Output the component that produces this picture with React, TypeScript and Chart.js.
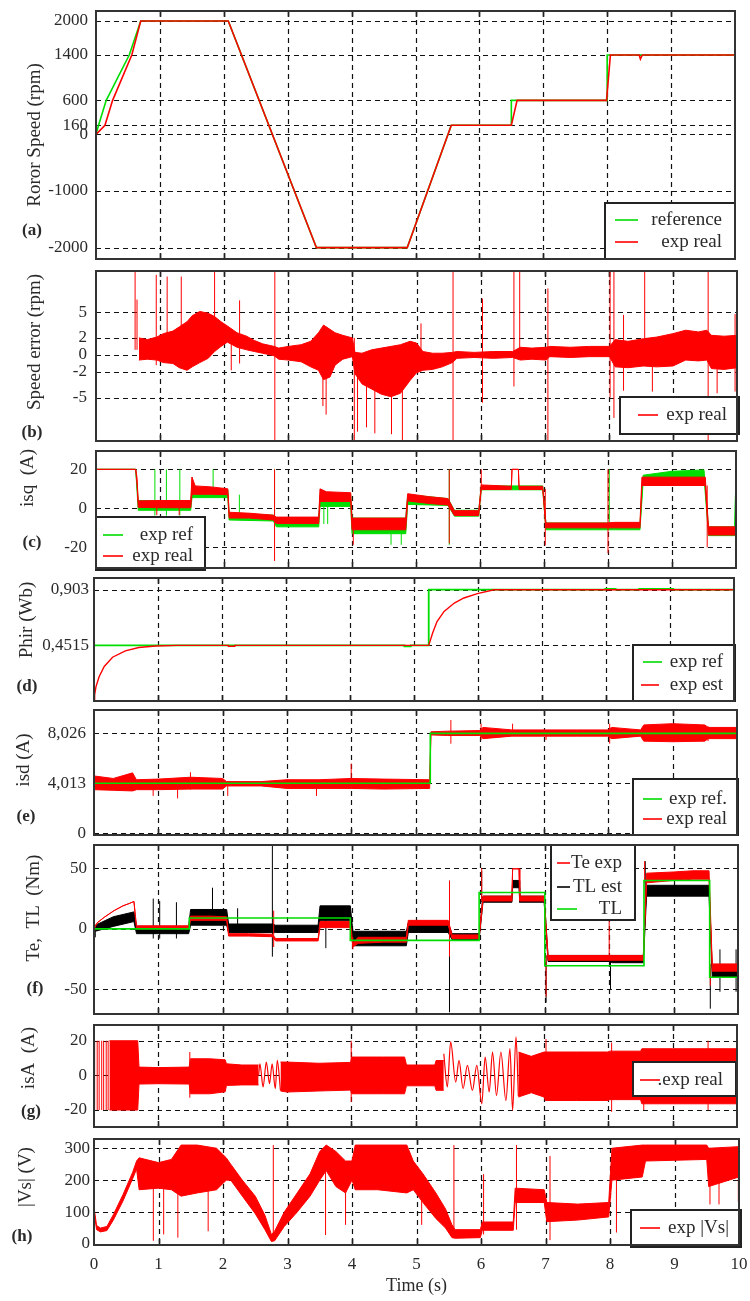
import React, { useEffect, useRef } from "react";
import { Chart, registerables } from "chart.js";

Chart.register(...registerables);

const RED = "#ff0000";
const GREEN = "#00dd00";
const BLACK = "#000000";
const INK = "#2a2a2a";
const SERIF = "'Liberation Serif', 'Times New Roman', Times, serif";
const PAD = 14;
const PAGE_W = 750;
const PAGE_H = 1301;

// ---------- shared time axis ----------
const timeTicks = [0, 1, 2, 3, 4, 5, 6, 7, 8, 9, 10];
const timeTickLabels = ["0", "1", "2", "3", "4", "5", "6", "7", "8", "9", "10"];

// ---------- (a) rotor speed ----------
const speedTicks = [2000, 1400, 600, 160, 0, -1000, -2000];
const speedTickLabels = ["2000", "1400", "600", "160", "0", "-1000", "-2000"];
const speedRefT = [0, 0.04, 0.16, 0.52, 0.7, 2.07, 3.45, 4.87, 5.56, 6.5, 6.5, 8.0, 8.0, 10];
const speedRefV = [0, 160, 600, 1400, 2000, 2000, -2000, -2000, 160, 160, 600, 600, 1400, 1400];
const speedRealT = [0, 0.14, 0.26, 0.56, 0.7, 2.07, 3.45, 4.87, 5.56, 6.5, 6.59, 7.99, 8.05, 8.5, 8.52, 8.55, 10];
const speedRealV = [0, 160, 600, 1400, 2000, 2000, -2000, -2000, 160, 160, 600, 600, 1400, 1400, 1330, 1400, 1400];

// ---------- (b) speed error ----------
const errTicks = [5, 2, 0, -2, -5];
const errTickLabels = ["5", "2", "0", "-2", "-5"];
const errBandT = [0.67, 0.8, 0.95, 1.05, 1.2, 1.3, 1.42, 1.5, 1.62, 1.75, 1.85, 1.95, 2.05, 2.2, 2.35, 2.47, 2.6, 2.78, 2.85, 3.0, 3.2, 3.35, 3.47, 3.55, 3.65, 3.73, 3.85, 4.0, 4.04, 4.15, 4.3, 4.45, 4.6, 4.75, 4.9, 5.0, 5.1, 5.25, 5.4, 5.56, 5.63, 5.9, 6.2, 6.5, 6.62, 6.8, 7.02, 7.08, 7.4, 7.7, 8.01, 8.1, 8.3, 8.54, 8.75, 9.0, 9.2, 9.4, 9.53, 9.6, 9.8, 10];
const errBandHi = [2.0, 1.8, 2.1, 2.5, 2.8, 3.3, 3.9, 4.6, 5.1, 4.9, 4.5, 3.9, 3.4, 2.6, 2.2, 1.7, 1.3, 1.0, 0.8, 1.0, 1.2, 1.6, 2.6, 3.5, 3.0, 2.6, 2.3, 2.0, 0.3, 0.2, 0.6, 0.8, 1.0, 1.2, 1.6, 1.4, 0.4, 0.2, 0.2, 0.3, 0.4, 0.3, 0.4, 0.4, 0.9, 0.8, 0.9, 1.0, 0.9, 1.0, 1.0, 1.8, 1.6, 1.9, 2.1, 2.5, 2.9, 2.7, 2.9, 2.3, 2.2, 2.3];
const errBandLo = [-0.6, -0.5, -0.6, -0.9, -1.0, -1.5, -1.8, -1.4, -0.9, -0.4, 0.4, 1.0, 1.5, 0.9, 0.6, 0.4, 0.2, -0.1, -0.5, -0.6, -0.8, -1.4, -1.8, -2.9, -2.6, -1.2, -0.5, -0.2, -2.2, -3.4, -4.0, -4.6, -4.9, -4.5, -3.0, -2.1, -1.8, -1.7, -1.4, -0.9, -0.4, -0.3, -0.4, -0.3, -0.6, -0.5, -0.6, -0.2, -0.3, -0.2, -0.2, -1.4, -1.5, -1.3, -1.4, -1.3, -0.6, -0.7, -0.6, -1.6, -1.7, -1.5];
const errSpikeT = [0.0, 0.61, 0.64, 0.94, 1.11, 1.33, 1.85, 2.11, 2.24, 2.79, 3.54, 3.59, 4.03, 4.08, 4.22, 4.35, 4.61, 4.78, 5.07, 5.57, 6.03, 6.52, 6.61, 7.05, 8.02, 8.08, 8.23, 8.56, 8.68, 9.55, 9.69, 9.97];
const errSpikeLo = [0, 0.6, 0.6, -1.2, 0, -1.0, 1.0, -1.8, -1.0, -10.1, -6.0, -7.0, -10.1, -9.0, -8.5, -9.2, -9.3, -10.1, -1.0, -10.1, -5.6, -3.7, 0, -10.1, -5.0, -7.4, -4.2, -1.0, -4.3, -10.1, -4.5, -4.3];
const errSpikeHi = [9.9, 9.9, 6.5, 9.4, 9.2, 9.2, 9.9, 2.0, 6.4, 9.9, 1.0, 1.0, 2.0, 0, 0, 0, 0, 0, 3.7, 9.9, 6.6, 9.9, 9.9, 7.8, 9.9, 9.9, 4.7, 9.9, 1.0, 9.9, 1.0, 4.8];

// ---------- (c) isq ----------
const isqTicks = [20, 0, -20];
const isqTickLabels = ["20", "0", "-20"];
const isqRealT = [0, 0.62, 0.64, 0.66, 1.0, 1.48, 1.5, 1.55, 1.8, 2.06, 2.08, 2.4, 2.77, 2.82, 3.2, 3.48, 3.5, 3.6, 3.98, 4.0, 4.4, 4.84, 4.87, 5.2, 5.5, 5.6, 5.98, 6.02, 6.49, 6.5, 6.6, 6.61, 6.98, 7.03, 7.5, 7.98, 8.1, 8.5, 8.53, 9.0, 9.52, 9.57, 10];
const isqRealHi = [20, 20, 16, 3.8, 4.0, 4.0, 16, 11.5, 11, 10, -2, -2.5, -3.5, -4.5, -4.5, -4.5, 10, 8.5, 8, -5, -5, -5, 7.5, 6, 5, -1.2, -1.2, 12, 11.3, 20, 20, 11.3, 11.3, -7.5, -7.5, -7.5, -7.2, -7.2, 16, 16, 16, -9.5, -9.5];
const isqRealLo = [20, 20, 13, 0.5, 0.3, 0.3, 7.2, 7.2, 7.2, 7, -5, -5, -6, -7.8, -7.8, -7.8, 3.5, 3.5, 3.5, -11, -11, -11, 3.8, 2.5, 1.7, -3.7, -3.7, 9.7, 9.7, 20, 20, 9.7, 9.7, -10, -10, -10, -10, -10, 11.7, 11.7, 11.7, -13.7, -13.7];
const isqRealSpikeT = [0.95, 1.3, 1.5, 2.79, 4.02, 5.52, 6.02, 7.02, 8.0, 8.03, 9.55];
const isqRealSpikeLo = [-3.5, -3.5, 7, -27, -18.7, -18, 9.7, -19, -23, -10, -20];
const isqRealSpikeHi = [2, 2, 16, 20, -5, 20, 20, 10, 20, -7.5, 11.7];
const isqRefT = [0, 0.62, 0.66, 1.48, 1.5, 2.06, 2.08, 2.77, 2.82, 3.48, 3.5, 3.98, 4.0, 4.84, 4.87, 5.5, 5.6, 5.98, 6.02, 6.98, 7.03, 8.0, 8.1, 8.5, 8.55, 9.0, 9.5, 9.57, 9.98, 10];
const isqRefHi = [20, 20, 4, 4, 10.5, 9.5, -2.5, -3.5, -5, -5, 7, 7, -5, -5, 7, 5, -1, -1, 11.5, 11.5, -7.5, -7.5, -7.5, -7.5, 17, 19, 19.7, -9.5, -9.5, 20];
const isqRefLo = [20, 20, -1, -1, 5.5, 5.5, -6, -6.5, -9.5, -9.5, 1, 1, -13, -13, 2, 1.5, -4, -4, 9.5, 9.5, -11, -11, -11, -11, 14, 15, 16, -14, -14, 20];
const isqRefSpikeT = [0.92, 1.1, 1.31, 1.83, 2.24, 2.79, 3.56, 3.62, 4.61, 4.77, 5.52, 8.02];
const isqRefSpikeLo = [-3.7, -3.7, -3.7, 5.5, -3, -10, -8, -8, -18.7, -18.7, -18.7, -10];
const isqRefSpikeHi = [20, 20, 20, 20, 7, 20, 6, 6, -5, -5, 20, 20];

// ---------- (d) rotor flux ----------
const phiTicks = [0.903, 0.4515];
const phiTickLabels = ["0,903", "0,4515"];
const phiRefT = [0, 4.85, 4.85, 4.95, 4.95, 5.23, 5.23, 7.99, 7.99, 8.15, 8.15, 8.52, 8.52, 9.05, 9.05, 10];
const phiRefV = [0.4515, 0.4515, 0.443, 0.443, 0.4515, 0.4515, 0.903, 0.903, 0.91, 0.91, 0.903, 0.903, 0.91, 0.91, 0.903, 0.903];
const phiEstT = [0, 0.01, 0.03, 0.08, 0.16, 0.29, 0.49, 0.7, 0.96, 1.3, 2.1, 2.1, 2.2, 2.2, 5.23, 5.26, 5.29, 5.36, 5.47, 5.63, 5.78, 5.99, 6.25, 10];
const phiEstV = [0, 0.05, 0.115, 0.197, 0.28, 0.355, 0.407, 0.434, 0.446, 0.4515, 0.4515, 0.444, 0.444, 0.4515, 0.4515, 0.5, 0.55, 0.645, 0.727, 0.795, 0.836, 0.871, 0.903, 0.903];

// ---------- (e) isd ----------
const isdTicks = [8.026, 4.013, 0];
const isdTickLabels = ["8,026", "4,013", "0"];
const isdRefT = [0, 5.23, 5.23, 10];
const isdRefV = [4.013, 4.013, 8.026, 8.026];
const isdBandT = [0.005, 0.3, 0.6, 0.66, 1.0, 1.5, 2.0, 2.06, 2.6, 3.0, 3.5, 4.0, 4.5, 5.22, 5.24, 5.5, 6.0, 6.05, 6.5, 7.0, 7.5, 7.99, 8.05, 8.5, 8.55, 9.0, 9.5, 9.55, 10];
const isdBandHi = [4.6, 4.4, 4.85, 4.3, 4.35, 4.5, 4.4, 4.15, 4.15, 4.3, 4.3, 4.4, 4.35, 4.3, 8.15, 8.2, 8.25, 8.5, 8.3, 8.3, 8.3, 8.3, 8.5, 8.3, 8.7, 8.8, 8.7, 8.5, 8.5];
const isdBandLo = [3.5, 3.45, 3.4, 3.5, 3.5, 3.55, 3.55, 3.8, 3.8, 3.6, 3.6, 3.6, 3.55, 3.6, 7.9, 7.85, 7.85, 7.6, 7.8, 7.8, 7.8, 7.8, 7.6, 7.8, 7.4, 7.35, 7.4, 7.6, 7.6];
const isdSpikeT = [0, 0.92, 1.3, 1.5, 2.08, 3.46, 4.0, 5.55, 6.02, 6.51, 7.03, 8.02, 9.55];
const isdSpikeLo = [0, 3.0, 2.8, 3.5, 3.0, 3.0, 3.6, 7.2, 7.5, 7.9, 7.5, 7.2, 7.4];
const isdSpikeHi = [4.6, 4.3, 4.3, 4.9, 4.2, 4.2, 5.6, 9.1, 8.8, 8.8, 8.2, 8.8, 8.6];

// ---------- (f) torques ----------
const torqueTicks = [50, 0, -50];
const torqueTickLabels = ["50", "0", "-50"];
const tlT = [0, 1.48, 1.48, 3.98, 3.98, 5.98, 5.98, 7.0, 7.0, 8.54, 8.54, 9.56, 9.56, 10];
const tlV = [0, 0, 9, 9, -9.5, -9.5, 30, 30, -30.5, -30.5, 40, 40, -40, -40];
const teT = [0, 0.05, 0.16, 0.31, 0.45, 0.55, 0.62, 0.66, 1.0, 1.47, 1.5, 1.8, 2.06, 2.09, 2.4, 2.77, 2.82, 3.2, 3.48, 3.51, 3.98, 4.02, 4.1, 4.5, 4.85, 4.88, 5.2, 5.5, 5.56, 5.98, 6.04, 6.49, 6.5, 6.6, 6.61, 6.99, 7.05, 7.5, 8.0, 8.05, 8.53, 8.58, 9.0, 9.3, 9.55, 9.6, 10];
const teHi = [0, 5, 9.6, 15, 19, 21, 22.6, 2.5, 2.5, 2.5, 10.5, 10.5, 10, -4, -4, -4.5, -8, -8, -8, 6, 6, -12, -7, -7, -7, 7, 7, 7, -5, -5, 27, 27, 49.6, 49.6, 27, 27, -22, -22, -22, -22, -22, 46, 47, 48, 48, -29, -29];
const teLo = [0, 5, 9.6, 15, 19, 21, 22.6, 0, 0, 0, 7, 7, 7, -6, -6, -6.5, -10, -10, -10, 1, 1, -15, -12, -11, -11, 3, 3, 3, -8, -8, 23, 23, 49.6, 49.6, 23, 23, -26, -26, -26, -26, -26, 38, 40, 41, 41, -35, -35];
const teSpikeT = [2.79, 4.02, 5.52, 6.02, 7.02, 8.0, 8.55, 9.57];
const teSpikeLo = [-15, -17, -23, 23, -56, -26, 38, -47];
const teSpikeHi = [15, -7, 40, 50, -22, 10, 56, -29];
const tleT = [0.02, 0.3, 0.62, 0.66, 1.47, 1.5, 2.06, 2.09, 2.77, 2.82, 3.48, 3.51, 3.98, 4.02, 4.85, 4.88, 5.5, 5.56, 5.98, 6.04, 6.49, 6.5, 6.6, 6.61, 6.99, 7.05, 8.0, 8.05, 8.53, 8.58, 9.55, 9.6, 10];
const tleHi = [3, 10, 14, 2, 2, 16, 16, 4, 4, 3, 3, 19, 19, -2, -2, 5, 5, -4, -4, 27, 27, 40, 40, 27, 27, -22, -22, -22, -22, 36, 36, -32, -32];
const tleLo = [-2, 2, 6, -4, -4, 3, 3, -3, -3, -3, -3, 7, 7, -14, -14, -3, -3, -9, -9, 22, 22, 34, 34, 22, 22, -27, -27, -28, -28, 27, 27, -40, -40];
const tleSpikeT = [0.02, 0.92, 1.02, 1.28, 1.84, 2.23, 2.77, 3.6, 5.52, 6.02, 7.02, 8.02, 8.56, 9.57, 9.72, 9.97];
const tleSpikeLo = [-7, -8, -8, -8, 3, -3, -23, -16, -69, 22, -61, -50, 15, -66, -52, -52];
const tleSpikeHi = [3, 25, 23, 22, 34, 17, 69, 7, 10, 48, -22, -22, 56, -32, -17, -17];

// ---------- (g) isA ----------
const isaTicks = [20, 0, -20];
const isaTickLabels = ["20", "0", "-20"];
const isaBand1T = [0.24, 0.68, 0.7, 1.0, 1.48, 1.5, 1.8, 2.04, 2.06, 2.3, 2.56];
const isaBand1Hi = [20, 20, 4.8, 4.5, 4.8, 9.6, 9.6, 9.0, 6.7, 6.0, 6.0];
const isaBand1Lo = [-20, -20, -5, -4.8, -5, -10.6, -10.6, -9.5, -5.8, -5.5, -5.5];
const isaBand2T = [2.9, 3.0, 3.5, 3.99, 4.01, 4.5, 4.83, 4.86, 5.3, 5.32, 5.44];
const isaBand2Hi = [7.7, 7.7, 7.0, 7.5, 10.6, 10.6, 10.6, 6, 6, 8.6, 8.6];
const isaBand2Lo = [-9, -9.6, -9.0, -8.5, -10.6, -10.6, -10.6, -6, -6, -8.6, -8.6];
const isaBand3T = [6.6, 6.8, 7.0, 7.02, 7.5, 7.99, 8.02, 8.5, 8.52, 9.0, 9.5, 10];
const isaBand3Hi = [13.5, 11, 13.5, 13.5, 13.5, 13.5, 14, 14, 15.4, 15.4, 15.4, 15.4];
const isaBand3Lo = [-12.5, -10, -12.5, -14.5, -14.5, -14.5, -14, -14, -16.4, -16.4, -16.4, -16.4];
const isaWave1T = [2.56, 2.58, 2.63, 2.68, 2.73, 2.77, 2.82, 2.85, 2.9];
const isaWave1V = [0, 6.7, -6.7, 7.7, -4.8, 6.7, -7.7, 8.7, -8.7];
const isaWave2T = [5.44, 5.495, 5.547, 5.625, 5.677, 5.74, 5.807, 5.885, 5.953, 6.031, 6.083, 6.146, 6.198, 6.26, 6.328, 6.406, 6.469, 6.51, 6.563, 6.6];
const isaWave2V = [12.5, -6.7, 19.3, -3.9, 8.7, -7.7, 5.8, -8.7, 5.8, -16.4, 10.6, -9.6, 13.5, -11.6, 13.5, -14.5, 15.4, -20.2, 22.2, -12];
const isaSpikeT = [0.01, 0.05, 0.08, 0.12, 0.15, 0.19, 0.22, 1.49, 4.0, 7.03, 8.05, 8.55, 9.55];
const isaSpikeLo = [-20, -20, -20, -20, -20, -20, -20, -12.9, -15.4, -14, -21, -20, -20];
const isaSpikeHi = [20, 20, 20, 20, 20, 20, 20, 13.5, 20, 21, 19, 15, 20];

// ---------- (h) |Vs| ----------
const vsTicks = [300, 200, 100, 0];
const vsTickLabels = ["300", "200", "100", "0"];
const vsBandT = [0, 0.04, 0.1, 0.2, 0.3, 0.45, 0.6, 0.66, 0.7, 1.0, 1.2, 1.35, 1.6, 1.9, 2.05, 2.12, 2.3, 2.5, 2.65, 2.75, 2.8, 2.95, 3.15, 3.35, 3.5, 3.6, 3.75, 3.9, 4.0, 4.05, 4.4, 4.85, 4.95, 5.1, 5.3, 5.45, 5.55, 5.6, 5.99, 6.02, 6.5, 6.53, 6.98, 7.02, 7.5, 7.98, 8.03, 8.5, 8.55, 9.5, 9.53, 10];
const vsBandHi = [115, 58, 50, 55, 92, 155, 225, 260, 270, 255, 265, 310, 310, 300, 270, 250, 200, 150, 90, 30, 40, 100, 160, 220, 290, 310, 290, 260, 260, 310, 310, 310, 260, 220, 160, 110, 60, 45, 45, 69, 69, 175, 170, 130, 125, 130, 300, 310, 310, 310, 300, 305];
const vsBandLo = [100, 45, 38, 42, 75, 135, 205, 235, 170, 175, 170, 150, 160, 170, 200, 200, 150, 95, 45, 8, 10, 55, 100, 150, 200, 230, 180, 160, 200, 170, 170, 160, 170, 130, 80, 50, 20, 18, 20, 43, 43, 130, 130, 70, 75, 85, 200, 210, 260, 265, 180, 210];
const vsSpikeT = [0.92, 1.08, 1.3, 1.77, 2.78, 3.59, 3.9, 5.08, 5.58, 6.04, 6.55, 7.07, 8.1, 9.55, 9.69, 9.99];
const vsSpikeLo = [10, 30, 20, 40, 10, 28, 60, 60, 20, 30, 45, 12, 36, 124, 124, 131];
const vsSpikeHi = [250, 250, 260, 260, 310, 230, 250, 220, 310, 219, 310, 276, 300, 280, 280, 300];

// ---------- dataset builders ----------
const pts = (T: number[], V: number[]) => T.map((t, i) => ({ x: t, y: V[i] }));
const spikePts = (T: number[], LO: number[], HI: number[]) =>
  T.flatMap((t, i) => [{ x: t, y: LO[i] }, { x: t, y: HI[i] }, { x: t, y: null }]);

function line(label: string, T: number[], V: number[], color: string, width: number, order: number, extra: any = {}) {
  return { label, data: pts(T, V), borderColor: color, backgroundColor: color, borderWidth: width, pointRadius: 0, tension: 0, fill: false, order, ...extra };
}
function band(label: string, T: number[], LO: number[], HI: number[], color: string, order: number) {
  return [
    { label: label + " max", data: pts(T, HI), borderColor: color, backgroundColor: color, borderWidth: 1, pointRadius: 0, tension: 0, fill: "+1", order },
    { label: label + " min", data: pts(T, LO), borderColor: color, backgroundColor: color, borderWidth: 1, pointRadius: 0, tension: 0, fill: false, order },
  ];
}
function spikes(label: string, T: number[], LO: number[], HI: number[], color: string, order: number) {
  return { label, data: spikePts(T, LO, HI), borderColor: color, backgroundColor: color, borderWidth: 1, pointRadius: 0, spanGaps: false, fill: false, order };
}

const panels: any[] = [
  {
    key: "a", top: 11, bottom: 259, left: 96, right: 735,
    yMin: -2200, yMax: 2177, yTicks: speedTicks, yTickLabels: speedTickLabels, yPad: 8,
    title: "Roror Speed (rpm)", titleX: 35, titleY: 135, letter: "(a)", letterX: 32, letterY: 231,
    legend: { x: 605, y: 203, w: 130, h: 56, textRight: 722, items: [
      { label: "reference", color: GREEN, y: 220, x1: 615, x2: 638 },
      { label: "exp real", color: RED, y: 242, x1: 615, x2: 638 },
    ] },
    datasets: () => [
      line("exp real", speedRealT, speedRealV, RED, 1.6, 0),
      line("reference", speedRefT, speedRefV, GREEN, 1.6, 1),
    ],
  },
  {
    key: "b", top: 271, bottom: 441, left: 96, right: 737,
    yMin: -10.1, yMax: 9.85, yTicks: errTicks, yTickLabels: errTickLabels, yPad: 9,
    title: "Speed error (rpm)", titleX: 35, titleY: 342, letter: "(b)", letterX: 32, letterY: 433,
    legend: { x: 620, y: 397, w: 119, h: 37, textRight: 727, items: [
      { label: "exp real", color: RED, y: 415, x1: 638, x2: 658 },
    ] },
    datasets: () => [
      ...band("exp real", errBandT, errBandLo, errBandHi, RED, 0),
      spikes("exp real spikes", errSpikeT, errSpikeLo, errSpikeHi, RED, 0),
    ],
  },
  {
    key: "c", top: 451, bottom: 568, left: 96, right: 736,
    yMin: -30.6, yMax: 29.4, yTicks: isqTicks, yTickLabels: isqTickLabels, yPad: 9,
    title: "isq  (A)", titleX: 28, titleY: 478, letter: "(c)", letterX: 32, letterY: 543,
    legend: { x: 96, y: 517, w: 109, h: 53, textRight: 193, items: [
      { label: "exp ref", color: GREEN, y: 535, x1: 103, x2: 123 },
      { label: "exp real", color: RED, y: 556, x1: 103, x2: 123 },
    ] },
    datasets: () => [
      ...band("exp real", isqRealT, isqRealLo, isqRealHi, RED, 0),
      spikes("exp real spikes", isqRealSpikeT, isqRealSpikeLo, isqRealSpikeHi, RED, 0),
      ...band("exp ref", isqRefT, isqRefLo, isqRefHi, GREEN, 1),
      spikes("exp ref spikes", isqRefSpikeT, isqRefSpikeLo, isqRefSpikeHi, GREEN, 1),
    ],
  },
  {
    key: "d", top: 578, bottom: 701, left: 94, right: 734,
    yMin: 0, yMax: 0.998, yTicks: phiTicks, yTickLabels: phiTickLabels, yPad: 5,
    title: "Phir (Wb)", titleX: 27, titleY: 620, letter: "(d)", letterX: 27, letterY: 687,
    legend: { x: 633, y: 645, w: 102, h: 56, textRight: 723, items: [
      { label: "exp ref", color: GREEN, y: 662, x1: 643, x2: 662 },
      { label: "exp est", color: RED, y: 685, x1: 641, x2: 659 },
    ] },
    datasets: () => [
      line("exp est", phiEstT, phiEstV, RED, 1.4, 0),
      line("exp ref", phiRefT, phiRefV, GREEN, 1.8, 1),
    ],
  },
  {
    key: "e", top: 710, bottom: 835, left: 94, right: 737,
    yMin: -0.14, yMax: 9.9, yTicks: isdTicks, yTickLabels: isdTickLabels, yPad: 8,
    title: "isd (A)", titleX: 24, titleY: 760, letter: "(e)", letterX: 26, letterY: 817,
    legend: { x: 633, y: 779, w: 105, h: 56, textRight: 727, items: [
      { label: "exp ref.", color: GREEN, y: 799, x1: 643, x2: 662 },
      { label: "exp real", color: RED, y: 819, x1: 643, x2: 662 },
    ] },
    datasets: () => [
      line("exp ref.", isdRefT, isdRefV, GREEN, 1.6, 0),
      ...band("exp real", isdBandT, isdBandLo, isdBandHi, RED, 1),
      spikes("exp real spikes", isdSpikeT, isdSpikeLo, isdSpikeHi, RED, 1),
    ],
  },
  {
    key: "f", top: 845, bottom: 1014, left: 94, right: 738,
    yMin: -70.4, yMax: 69.3, yTicks: torqueTicks, yTickLabels: torqueTickLabels, yPad: 7,
    title: "Te,  TL  (Nm)", titleX: 34, titleY: 908, letter: "(f)", letterX: 35, letterY: 989,
    legend: { x: 551, y: 845, w: 84, h: 75, textRight: 622, items: [
      { label: "Te exp", color: RED, y: 863, x1: 557, x2: 570 },
      { label: "TL est", color: BLACK, y: 887, x1: 557, x2: 570 },
      { label: "TL", color: GREEN, y: 909, x1: 557, x2: 577 },
    ] },
    datasets: () => [
      line("TL", tlT, tlV, GREEN, 1.6, 0),
      ...band("Te exp", teT, teLo, teHi, RED, 1),
      spikes("Te exp spikes", teSpikeT, teSpikeLo, teSpikeHi, RED, 1),
      ...band("TL est", tleT, tleLo, tleHi, BLACK, 2),
      spikes("TL est spikes", tleSpikeT, tleSpikeLo, tleSpikeHi, BLACK, 2),
    ],
  },
  {
    key: "g", top: 1025, bottom: 1127, left: 94, right: 737,
    yMin: -29.8, yMax: 29.1, yTicks: isaTicks, yTickLabels: isaTickLabels, yPad: 7,
    title: "isA  (A)", titleX: 29, titleY: 1058, letter: "(g)", letterX: 31, letterY: 1112,
    legend: { x: 633, y: 1062, w: 103, h: 34, textRight: 723, items: [
      { label: ".exp real", color: RED, y: 1080, x1: 640, x2: 660 },
    ] },
    datasets: () => [
      ...band("exp real a", isaBand1T, isaBand1Lo, isaBand1Hi, RED, 0),
      ...band("exp real b", isaBand2T, isaBand2Lo, isaBand2Hi, RED, 0),
      ...band("exp real c", isaBand3T, isaBand3Lo, isaBand3Hi, RED, 0),
      line("exp real wave 1", isaWave1T, isaWave1V, RED, 1.2, 0, { cubicInterpolationMode: "monotone" }),
      line("exp real wave 2", isaWave2T, isaWave2V, RED, 1.2, 0, { cubicInterpolationMode: "monotone" }),
      spikes("exp real spikes", isaSpikeT, isaSpikeLo, isaSpikeHi, RED, 0),
    ],
  },
  {
    key: "h", top: 1139, bottom: 1245, left: 94, right: 739, last: true,
    yMin: -3.1, yMax: 329, yTicks: vsTicks, yTickLabels: vsTickLabels, yPad: 4,
    title: "|Vs| (V)", titleX: 26, titleY: 1177, letter: "(h)", letterX: 22, letterY: 1237,
    legend: { x: 631, y: 1210, w: 110, h: 37, textRight: 729, items: [
      { label: "exp |Vs|", color: RED, y: 1228, x1: 640, x2: 660 },
    ] },
    datasets: () => [
      ...band("exp |Vs|", vsBandT, vsBandLo, vsBandHi, RED, 0),
      spikes("exp |Vs| spikes", vsSpikeT, vsSpikeLo, vsSpikeHi, RED, 0),
    ],
  },
];

function makeDeco(p: any, canvasTop: number) {
  const Y = (y: number) => y - canvasTop;
  return {
    id: "deco",
    beforeDatasetsDraw(chart: any) {
      const { ctx, chartArea: a, scales } = chart;
      const xs = scales.x;
      const ys = scales.y;
      ctx.save();
      ctx.strokeStyle = "#111";
      ctx.lineWidth = 1.2;
      ctx.setLineDash([5, 4]);
      ctx.beginPath();
      for (const v of timeTicks) {
        if (v <= 0 || v >= 10) continue;
        const px = Math.round(xs.getPixelForValue(v)) + 0.5;
        ctx.moveTo(px, a.top);
        ctx.lineTo(px, a.bottom);
      }
      for (const v of p.yTicks) {
        const py = Math.round(ys.getPixelForValue(v)) + 0.5;
        if (py <= a.top + 1 || py >= a.bottom - 1) continue;
        ctx.moveTo(a.left, py);
        ctx.lineTo(a.right, py);
      }
      ctx.stroke();
      ctx.setLineDash([]);
      ctx.lineWidth = 1.6;
      ctx.strokeStyle = "#222";
      ctx.beginPath();
      for (const v of timeTicks) {
        if (v <= 0 || v >= 10) continue;
        const px = Math.round(xs.getPixelForValue(v)) + 0.5;
        ctx.moveTo(px, a.top);
        ctx.lineTo(px, a.top + 6);
        ctx.moveTo(px, a.bottom - 6);
        ctx.lineTo(px, a.bottom);
      }
      ctx.stroke();
      ctx.restore();
    },
    afterDatasetsDraw(chart: any) {
      const { ctx } = chart;
      const lg = p.legend;
      ctx.save();
      ctx.fillStyle = "#ffffff";
      ctx.fillRect(lg.x, Y(lg.y), lg.w, lg.h);
      ctx.strokeStyle = "#222";
      ctx.lineWidth = 2;
      ctx.strokeRect(lg.x, Y(lg.y), lg.w, lg.h);
      ctx.font = `19px ${SERIF}`;
      ctx.textAlign = "right";
      ctx.textBaseline = "middle";
      for (const it of lg.items) {
        ctx.strokeStyle = it.color;
        ctx.lineWidth = 1.6;
        ctx.beginPath();
        ctx.moveTo(it.x1, Y(it.y));
        ctx.lineTo(it.x2, Y(it.y));
        ctx.stroke();
        ctx.fillStyle = INK;
        ctx.fillText(it.label, lg.textRight, Y(it.y));
      }
      ctx.restore();
    },
    afterDraw(chart: any) {
      const { ctx, chartArea: a } = chart;
      ctx.save();
      ctx.strokeStyle = "#333";
      ctx.lineWidth = 2;
      ctx.strokeRect(a.left, a.top, a.right - a.left, a.bottom - a.top);
      ctx.fillStyle = INK;
      ctx.textAlign = "center";
      ctx.textBaseline = "middle";
      ctx.font = `bold 17px ${SERIF}`;
      ctx.fillText(p.letter, p.letterX, Y(p.letterY));
      ctx.translate(p.titleX, Y(p.titleY));
      ctx.rotate(-Math.PI / 2);
      ctx.font = `19px ${SERIF}`;
      ctx.fillText(p.title, 0, 0);
      ctx.restore();
    },
  };
}

function Panel({ p }: { p: any }) {
  const ref = useRef<HTMLCanvasElement | null>(null);
  const canvasTop = p.top - PAD;
  const height = p.last ? PAGE_H - canvasTop : p.bottom - p.top + 2 * PAD;

  useEffect(() => {
    if (!ref.current) return;
    const isLast = !!p.last;
    const chart = new Chart(ref.current, {
      type: "line",
      data: { datasets: p.datasets() },
      options: {
        responsive: false,
        animation: false,
        events: [],
        layout: { padding: { top: PAD, bottom: isLast ? 0 : PAD, left: 0, right: PAGE_W - p.right } },
        plugins: { legend: { display: false }, tooltip: { enabled: false } },
        elements: { point: { radius: 0 } },
        scales: {
          x: {
            type: "linear",
            min: 0,
            max: 10,
            display: isLast,
            afterBuildTicks: (s: any) => { s.ticks = timeTicks.map((v) => ({ value: v })); },
            afterFit: (s: any) => { s.height = isLast ? PAGE_H - p.bottom : 0; s.paddingLeft = 0; s.paddingRight = 0; },
            grid: { display: false, drawTicks: false },
            border: { display: false },
            ticks: {
              autoSkip: false,
              maxRotation: 0,
              padding: 9,
              color: INK,
              font: { family: SERIF, size: 17 },
              callback: (v: any) => { const i = timeTicks.indexOf(v); return i >= 0 ? timeTickLabels[i] : ""; },
            },
            title: { display: isLast, text: "Time (s)", color: INK, font: { family: SERIF, size: 18 }, padding: { top: 2, bottom: 4 } },
          },
          y: {
            type: "linear",
            min: p.yMin,
            max: p.yMax,
            afterBuildTicks: (s: any) => { s.ticks = p.yTicks.map((v: number) => ({ value: v })); },
            afterFit: (s: any) => { s.width = p.left; s.paddingTop = 0; s.paddingBottom = 0; },
            grid: { display: false, drawTicks: false },
            border: { display: false },
            ticks: {
              autoSkip: false,
              padding: p.yPad,
              color: INK,
              font: { family: SERIF, size: 17 },
              callback: (v: any) => { const i = p.yTicks.indexOf(v); return i >= 0 ? p.yTickLabels[i] : ""; },
            },
          },
        },
      } as any,
      plugins: [makeDeco(p, canvasTop)],
    });
    return () => chart.destroy();
  }, []);

  return (
    <canvas
      ref={ref}
      width={PAGE_W}
      height={height}
      style={{ position: "absolute", left: 0, top: canvasTop, display: "block" }}
    />
  );
}

export default function App() {
  return (
    <div style={{ position: "absolute", left: 0, top: 0, width: PAGE_W, height: PAGE_H, background: "#ffffff", overflow: "hidden" }}>
      {panels.map((p) => (
        <Panel key={p.key} p={p} />
      ))}
    </div>
  );
}
